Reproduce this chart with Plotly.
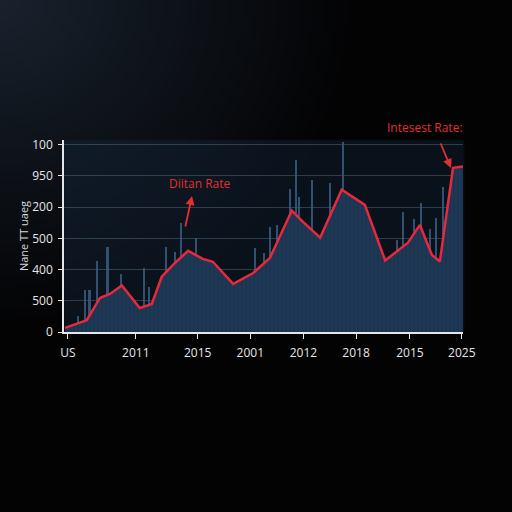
import zlib, struct, base64, math
import plotly.graph_objects as go

# ---------------- data ----------------
line_x = [0.25, 5.7, 9.0, 11.5, 14.5, 19.0, 22.0, 24.5, 27.8, 31.1, 34.8, 37.3, 42.4, 47.4,
          51.6, 57.1, 59.9, 64.2, 69.6, 75.4, 80.5, 86.2, 89.2, 92.2, 94.2, 97.5, 100]
line_y = [13, 38, 109, 122, 149, 77, 90, 177, 221, 260, 234, 225, 154, 189,
          237, 389, 353, 302, 456, 407, 229, 286, 343, 247, 226, 526, 530]

bar_x = [3.6, 5.3, 6.4, 8.3, 10.9, 14.3, 20.0, 21.3, 25.6, 27.8, 29.3, 33.1, 47.9, 50.1,
         51.6, 53.3, 56.6, 58.1, 58.9, 62.1, 66.7, 70.0, 70.8, 83.4, 85.0, 87.7, 89.5,
         91.7, 93.2, 94.9, 98.8]
bar_y = [51, 135, 135, 228, 273, 186, 205, 144, 273, 257, 350, 302, 269, 253,
         337, 343, 459, 552, 433, 488, 478, 610, 414, 295, 385, 363, 414,
         330, 366, 465, 513]

x_tickvals = [1, 18, 33.5, 46.7, 60, 73.2, 86.7, 99.7]
x_ticktext = ["US", "2011", "2015", "2001", "2012", "2018", "2015", "2025"]
y_tickvals = [0, 100, 200, 300, 400, 500, 600]
y_ticktext = ["0", "500", "400", "500", "200", "950", "100"]

y_title = "Nane TT uaeg"
label_a = "Diitan Rate"
label_b = "Intesest Rate:"

# ---------------- background gradient image ----------------
W = H = 256
L, R, T, B = 64, 463, 140, 332
rows = []
for j in range(H):
    py = (j + 0.5) * 512 / H
    row = []
    for i in range(W):
        px = (i + 0.5) * 512 / W
        f = max(0.0, 1 - math.sqrt((px / 360) ** 2 + (py / 330) ** 2))
        c = [3 + 22 * f, 3 + 31 * f, 4 + 42 * f]
        if L <= px <= R and T <= py <= B:
            c = [c[0] * 0.6 + 8, c[1] * 0.6 + 16, c[2] * 0.6 + 25]
        row += [int(min(255, v)) for v in c]
    rows.append(row)

def make_png(w, h, rows):
    raw = b"".join(b"\x00" + bytes(r) for r in rows)
    def chunk(t, d):
        return struct.pack(">I", len(d)) + t + d + struct.pack(">I", zlib.crc32(t + d) & 0xffffffff)
    return (b"\x89PNG\r\n\x1a\n" + chunk(b"IHDR", struct.pack(">IIBBBBB", w, h, 8, 2, 0, 0, 0))
            + chunk(b"IDAT", zlib.compress(raw, 9)) + chunk(b"IEND", b""))

src = "data:image/png;base64," + base64.b64encode(make_png(W, H, rows)).decode()

pw, ph = R - L, B - T
def px2paper(px, py):
    return (px - L) / pw, (B - py) / ph

fig = go.Figure()
fig.add_trace(go.Bar(x=bar_x, y=bar_y, width=0.55, marker=dict(color="rgba(58,92,128,0.85)", line_width=0),
                     showlegend=False, hoverinfo="skip"))
fig.add_trace(go.Scatter(x=line_x, y=line_y, mode="lines", fill="tozeroy",
                         fillcolor="#1d3653",
                         fillpattern=dict(shape="|", fgcolor="#13263a", bgcolor="#1e3856", size=4, solidity=0.25),
                         line=dict(color="#e8283c", width=2.5), showlegend=False))

red = "#e0302f"
ax1, ay1 = px2paper(192, 196)
fig.add_annotation(xref="paper", yref="paper", x=ax1, y=ay1, ax=-7, ay=32, text="",
                   showarrow=True, arrowhead=2, arrowsize=1, arrowwidth=1.8, arrowcolor=red)
tx1, ty1 = px2paper(200, 183)
fig.add_annotation(xref="paper", yref="paper", x=tx1, y=ty1, xanchor="center", yanchor="middle",
                   text=label_a, showarrow=False, font=dict(color=red, size=12, family="Open Sans"))
ax2, ay2 = px2paper(451, 168)
fig.add_annotation(xref="paper", yref="paper", x=ax2, y=ay2, ax=-11, ay=-26, text="",
                   showarrow=True, arrowhead=2, arrowsize=1, arrowwidth=1.8, arrowcolor=red)
tx2, ty2 = px2paper(425, 127)
fig.add_annotation(xref="paper", yref="paper", x=tx2, y=ty2, xanchor="center", yanchor="middle",
                   text=label_b, showarrow=False, font=dict(color=red, size=12, family="Open Sans"))

fig.add_layout_image(source=src, xref="paper", yref="paper", x=-L / pw, y=1 + T / ph,
                     sizex=512 / pw, sizey=512 / ph, sizing="stretch", xanchor="left", yanchor="top",
                     layer="below")

fig.update_layout(
    width=512, height=512, margin=dict(l=L, r=512 - R, t=T, b=512 - B),
    paper_bgcolor="#030303", plot_bgcolor="rgba(0,0,0,0)",
    font=dict(family="Open Sans", color="#e6e6e6", size=12),
    bargap=0,
)
fig.update_xaxes(range=[0, 100], tickvals=x_tickvals, ticktext=x_ticktext, showgrid=False,
                 showline=True, linecolor="#e6e6e6", linewidth=1.5, ticks="outside", ticklen=5,
                 tickcolor="#e6e6e6", ticklabelstandoff=4, zeroline=False, tickfont=dict(size=12))
fig.update_yaxes(range=[0, 615], tickvals=y_tickvals, ticktext=y_ticktext, showgrid=True,
                 gridcolor="rgba(90,115,135,0.45)", gridwidth=1,
                 showline=True, linecolor="#e6e6e6", linewidth=1.5, ticks="outside", ticklen=4,
                 tickcolor="#e6e6e6", ticklabelstandoff=3, zeroline=False, tickfont=dict(size=12),
                 title=dict(text=y_title, font=dict(size=11, color="#d8d8d8"), standoff=1))

fig.write_html("out.html", config={"displayModeBar": False},
               post_script="document.body.style.margin='0';document.body.style.background='#030303';")
